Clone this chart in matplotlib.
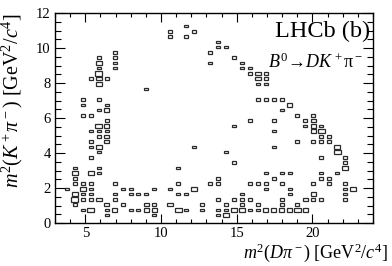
import matplotlib.pyplot as plt
import numpy as np
from matplotlib.patches import Rectangle

plt.rcParams.update({
    'font.family': 'serif',
    'font.serif': ['Liberation Serif', 'DejaVu Serif'],
    'mathtext.fontset': 'custom',
    'mathtext.rm': 'Liberation Serif',
    'mathtext.it': 'Liberation Serif:italic',
    'mathtext.bf': 'Liberation Serif:bold',
    'xtick.direction': 'in',
    'ytick.direction': 'in',
    'xtick.top': True,
    'ytick.right': True,
})

X_EDGES = np.linspace(3, 24, 41)   # m^2(D pi) binning
Y_EDGES = np.linspace(0, 12, 41)   # m^2(K pi) binning
N_MAX = 4

# one entry per row of boxes: m^2(K pi) of the row, m^2(D pi) of each box, entries in each box
row_m2_kpi = [11.25, 10.95, 10.65, 10.35, 10.05, 9.75, 9.45, 9.15, 8.85, 8.55, 8.25, 7.95,
              7.65, 7.05, 6.75, 6.45, 6.15, 5.85, 5.55, 5.25, 4.95, 4.65, 4.35, 4.05,
              3.75, 3.45, 3.15, 2.85, 2.55, 2.25, 1.95, 1.65, 1.35, 1.05, 0.75, 0.45]

row_m2_dpi = [
    [11.66],
    [10.61, 12.19],
    [10.61, 11.66],
    [13.76],
    [13.76, 14.29],
    [6.94, 13.24],
    [5.89, 6.94, 14.81],
    [5.89, 6.94, 13.24, 15.34],
    [5.89, 6.94, 15.34, 15.86],
    [5.89, 15.86, 16.39, 16.91],
    [5.36, 5.89, 6.41, 16.39, 16.91],
    [5.89, 16.39, 16.91],
    [9.04],
    [4.84, 5.89, 16.39, 16.91, 17.44, 17.96],
    [4.84, 6.41, 18.49],
    [5.89, 6.41, 17.96],
    [4.84, 5.36, 19.01, 20.06],
    [6.41, 15.86, 17.44, 19.54, 20.06],
    [5.89, 6.41, 14.81, 19.54, 20.06, 20.59],
    [5.36, 5.89, 6.41, 17.44, 20.06, 20.59],
    [5.89, 6.41, 20.59, 21.11],
    [5.36, 6.41, 19.01, 20.06, 20.59, 21.11],
    [5.36, 5.89, 12.19, 17.44, 21.64],
    [5.89, 14.29, 21.64],
    [5.36, 20.59, 22.16],
    [14.81, 22.16],
    [4.31, 5.89, 11.14, 22.16],
    [4.31, 5.36, 5.89, 16.91, 17.96, 18.49, 20.59, 21.64],
    [4.31, 13.76, 17.44, 20.59, 21.11],
    [4.31, 4.84, 5.36, 6.94, 11.14, 13.24, 13.76, 15.86, 16.39, 16.91, 17.96, 20.06, 21.11, 22.16],
    [3.79, 4.84, 5.36, 7.46, 7.99, 9.56, 10.61, 12.19, 16.91, 18.49, 22.16, 22.69],
    [4.31, 4.84, 5.36, 6.94, 7.99, 8.51, 9.04, 11.14, 11.66, 15.34, 18.49, 20.06, 22.16],
    [4.31, 4.84, 5.36, 5.89, 6.94, 13.76, 14.81, 15.34, 15.86, 17.96, 19.54, 20.06, 20.59, 22.16],
    [4.31, 6.41, 7.46, 9.04, 9.56, 10.61, 12.71, 14.29, 15.34, 16.39, 17.96, 19.01],
    [4.84, 5.36, 6.41, 6.94, 7.99, 8.51, 9.04, 9.56, 11.14, 11.66, 12.71, 13.76, 14.29, 14.81,
     15.34, 15.86, 16.39, 16.91, 17.44, 17.96, 18.49, 19.01, 19.54],
    [6.41, 9.56, 13.76, 14.29],
]

row_entries = [
    [1],
    [1, 1],
    [1, 1],
    [1],
    [1, 1],
    [1, 1],
    [1, 1, 1],
    [2, 1, 1, 1],
    [1, 1, 1, 1],
    [3, 1, 2, 1],
    [1, 2, 1, 2, 1],
    [2, 1, 1],
    [1],
    [1, 1, 1, 1, 1, 1],
    [1, 1, 2],
    [1, 2, 1],
    [1, 1, 1, 1],
    [1, 1, 1, 1, 2],
    [3, 2, 1, 1, 2, 1],
    [1, 1, 1, 1, 2, 3],
    [1, 2, 1, 1],
    [1, 2, 1, 1, 1, 1],
    [1, 2, 1, 1, 2],
    [1, 1, 3],
    [1, 1, 1],
    [1, 1],
    [1, 1, 1, 2],
    [2, 2, 1, 1, 1, 1, 1, 1],
    [1, 1, 1, 1, 1],
    [1, 1, 1, 1, 1, 1, 1, 1, 1, 1, 1, 1, 1, 1],
    [1, 2, 1, 1, 1, 1, 1, 2, 1, 1, 1, 2],
    [2, 1, 1, 1, 1, 1, 1, 1, 1, 1, 1, 2, 1],
    [3, 1, 1, 2, 1, 1, 1, 1, 1, 1, 2, 1, 1, 1],
    [1, 2, 1, 2, 1, 2, 1, 1, 1, 1, 1, 1],
    [1, 3, 1, 2, 1, 1, 2, 2, 3, 1, 1, 1, 1, 2, 2, 1, 1, 2, 2, 2, 2, 3, 2],
    [1, 1, 1, 2],
]

# ----------------------------------------------------------------------------------------------------
def plot_dalitz():

    xs = np.concatenate([np.array(r, dtype=float) for r in row_m2_dpi])
    ys = np.concatenate([np.full(len(r), y) for r, y in zip(row_m2_dpi, row_m2_kpi)])
    ws = np.concatenate([np.array(n, dtype=float) for n in row_entries])
    hist, _, _ = np.histogram2d(xs, ys, bins=[X_EDGES, Y_EDGES], weights=ws)

    fig = plt.figure(figsize=(3.92, 2.66), dpi=100)
    ax = fig.add_axes([55 / 392, 43 / 266, 318 / 392, 210 / 266])

    bw = X_EDGES[1] - X_EDGES[0]
    bh = Y_EDGES[1] - Y_EDGES[0]
    for i, j in zip(*np.nonzero(hist)):
        f = np.sqrt(hist[i, j] / N_MAX)
        w, h = bw * f, bh * f
        xc = 0.5 * (X_EDGES[i] + X_EDGES[i + 1])
        yc = 0.5 * (Y_EDGES[j] + Y_EDGES[j + 1])
        ax.add_patch(Rectangle((xc - w / 2, yc - h / 2), w, h, fill=False,
                               ec='#2a2a2a', lw=0.9))

    ax.set_xlim(3, 24)
    ax.set_ylim(0, 12)
    ax.set_xticks([5, 10, 15, 20])
    ax.set_xticks(np.arange(3, 25, 1), minor=True)
    ax.set_yticks(np.arange(0, 13, 2))
    ax.set_yticks(np.arange(0, 12.01, 0.5), minor=True)
    ax.tick_params(axis='x', which='major', length=6.5, width=0.8, labelsize=10.5, pad=3)
    ax.tick_params(axis='x', which='minor', length=3.2, width=0.8)
    ax.tick_params(axis='y', which='major', length=7.5, width=0.8, labelsize=10.5, pad=3)
    ax.tick_params(axis='y', which='minor', length=4, width=0.8)
    for s in ax.spines.values():
        s.set_linewidth(1.0)

    fig.text(12 / 392, 1 - 13 / 266, r'$m^2(K^+\pi^-)$ [GeV$^2$/$c^4$]', rotation=90,
             ha='center', va='top', fontsize=14.5)
    fig.text(388 / 392, 1 - 258 / 266, r'$m^2(D\pi^-)$ [GeV$^2$/$c^4$]',
             ha='right', va='baseline', fontsize=13)

    fig.text(370 / 392, 1 - 37 / 266, 'LHCb (b)', ha='right', va='baseline', fontsize=17.5)
    fig.text(363 / 392, 1 - 68 / 266, r'$B^0\!\rightarrow\! DK^+\mathrm{\pi}^-$',
             ha='right', va='baseline', fontsize=13)

    fig.savefig('out.png', dpi=100)

# ----------------------------------------------------------------------------------------------------
if __name__ == '__main__':

    plot_dalitz()
